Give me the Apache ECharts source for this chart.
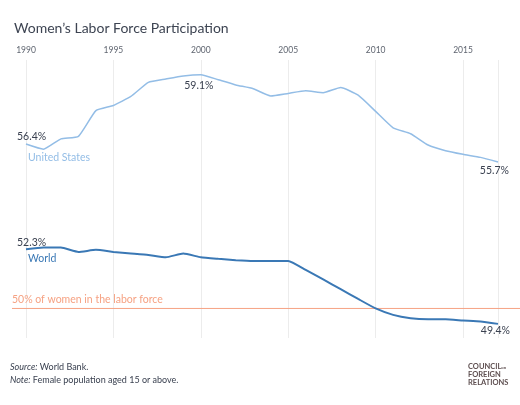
<!DOCTYPE html>
<html>
<head>
<meta charset="utf-8">
<script src="https://cdn.jsdelivr.net/npm/echarts@6/dist/echarts.min.js"></script>
<style>
html,body{margin:0;padding:0;background:#fff;}
#chart_main{width:520px;height:405px;}
</style>
</head>
<body>
<div id="chart_main"></div>
<script type="text/javascript">
// data
var years = [1990,1991,1992,1993,1994,1995,1996,1997,1998,1999,2000,2001,2002,2003,2004,2005,2006,2007,2008,2009,2010,2011,2012,2013,2014,2015,2016,2017];
var usValues = [56.4,56.2,56.6,56.7,57.7,57.9,58.25,58.8,58.93,59.05,59.1,58.9,58.7,58.55,58.27,58.37,58.47,58.4,58.6,58.3,57.67,57.03,56.8,56.36,56.14,56.0,55.88,55.7];
var worldValues = [52.3,52.37,52.37,52.2,52.28,52.2,52.14,52.08,51.99,52.14,51.99,51.93,51.88,51.85,51.85,51.85,51.5,51.13,50.75,50.37,50.0,49.75,49.62,49.58,49.58,49.53,49.49,49.4];
var referenceValue = 50;
var yearTicks = [1990,1995,2000,2005,2010,2015];

var fontName = 'Lato, "Noto Sans", sans-serif';
var textColor = '#3a4150';
var usColor = '#93bde6';
var worldColor = '#3a78b5';
var refColor = '#f6a283';

function pairs(xs, ys){
	var out = [];
	for(var i=0;i<xs.length;i++){ out.push([xs[i], ys[i]]); }
	return out;
}

var myChart = echarts.init(document.getElementById('chart_main'), null, {renderer:'canvas'});
var yMin = 48.85, yMax = 59.67;

var option = {
	animation: false,
	backgroundColor: '#fff',
	textStyle: {fontFamily: fontName},
	title: {
		text: "Women\u2019s Labor Force Participation",
		left: 9, top: 16,
		textStyle: {fontFamily: fontName, fontSize: 14, fontWeight: 'normal', color: '#3d4452'}
	},
	grid: [
		{left: 26, right: 22, top: 60, bottom: 67},
		{left: 12, right: 0, top: 60, bottom: 67}
	],
	xAxis: [
		{
			type: 'value', gridIndex: 0, position: 'top',
			min: 1990, max: 2017, interval: 5,
			axisLine: {show: false}, axisTick: {show: false},
			axisLabel: {
				show: true, margin: 5, fontSize: 8.5, color: '#5f6570', fontFamily: fontName,
				showMaxLabel: false,
				formatter: function(v){ return yearTicks.indexOf(v) >= 0 ? String(v) : ''; }
			},
			splitLine: {show: true, lineStyle: {color: '#ececec', width: 1}}
		},
		{
			type: 'value', gridIndex: 1, min: 0, max: 1, show: false
		}
	],
	yAxis: [
		{type: 'value', gridIndex: 0, min: yMin, max: yMax, show: false},
		{type: 'value', gridIndex: 1, min: yMin, max: yMax, show: false}
	],
	series: [
		{
			name: 'Reference', type: 'line', xAxisIndex: 1, yAxisIndex: 1,
			data: [[0, referenceValue], [1, referenceValue]],
			symbol: 'none', silent: true,
			lineStyle: {color: refColor, width: 1}
		},
		{
			name: 'United States', type: 'line', xAxisIndex: 0, yAxisIndex: 0,
			data: pairs(years, usValues),
			symbol: 'none', smooth: 0.15,
			lineStyle: {color: usColor, width: 1.5}
		},
		{
			name: 'World', type: 'line', xAxisIndex: 0, yAxisIndex: 0,
			data: pairs(years, worldValues),
			symbol: 'none', smooth: 0.15,
			lineStyle: {color: worldColor, width: 2}
		}
	]
};
myChart.setOption(option);

// text labels placed from the chart's own scales
function at(gridIdx, x, y){
	return myChart.convertToPixel({gridIndex: gridIdx}, [x, y]);
}
function label(p, dx, dy, text, align, color, size){
	return {
		type: 'text', x: p[0] + dx, y: p[1] + dy, silent: true,
		style: {text: text, fill: color, font: 'normal ' + size + 'px ' + fontName, textAlign: align, textVerticalAlign: 'middle'}
	};
}
function pct(v){ return v.toFixed(1) + '%'; }

var last = years.length - 1;
var peak = years.indexOf(2000);
var els = [
	label(at(0, years[0], usValues[0]), -9, -7, pct(usValues[0]), 'left', textColor, 10.5),
	label(at(0, years[0], usValues[0]), 2, 14, 'United States', 'left', usColor, 10.5),
	label(at(0, years[peak], usValues[peak]), -2, 11, pct(usValues[peak]), 'center', textColor, 10.5),
	label(at(0, years[last], usValues[last]), 11, 9, pct(usValues[last]), 'right', textColor, 10.5),
	label(at(0, years[0], worldValues[0]), -9, -7, pct(worldValues[0]), 'left', textColor, 10.5),
	label(at(0, years[0], worldValues[0]), 2, 9, 'World', 'left', worldColor, 10.5),
	label(at(0, years[last], worldValues[last]), 12, 7, pct(worldValues[last]), 'right', textColor, 10.5),
	label(at(1, 0, referenceValue), 0, -9, '50% of women in the labor force', 'left', refColor, 10.5),
	{
		type: 'text', left: 10, top: 361, silent: true,
		style: {
			text: '{i|Source:} World Bank.\n{i|Note:} Female population aged 15 or above.',
			fill: textColor, font: 'normal 9px ' + fontName, lineHeight: 12.5,
			rich: {i: {fontStyle: 'italic', fontSize: 9, fontFamily: fontName, fill: textColor}}
		}
	},
	{
		type: 'text', left: 468, top: 362, silent: true,
		style: {
			text: 'COUNCIL{s|on}\nFOREIGN\nRELATIONS',
			fill: '#5e4f50', font: 'bold 7.5px ' + fontName, lineHeight: 8.3,
			rich: {s: {fontSize: 4, fontWeight: 'bold', fill: '#5e4f50', verticalAlign: 'bottom'}}
		}
	}
];
myChart.setOption({graphic: {elements: els}});
</script>
</body>
</html>
